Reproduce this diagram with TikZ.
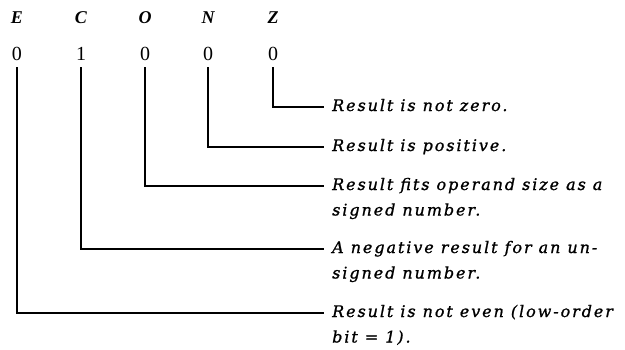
\documentclass[tikz,border=0pt]{standalone}
\usepackage{fontspec}
\setmainfont{Liberation Serif}
\newfontfamily\notefont[LetterSpace=12,FakeBold=1]{DejaVu Serif}
\usepackage{tikz}
\usetikzlibrary{positioning}
\usetikzlibrary{calc}
\tikzset{flag/.style={font=\fontsize{18}{20}\selectfont\bfseries\itshape,inner sep=0pt}}
\tikzset{bit/.style={font=\fontsize{20}{22}\selectfont,inner sep=0pt}}
\tikzset{note/.style={anchor=base west,inner sep=0pt,align=left,
                      font=\notefont\itshape\fontsize{16}{25.5}\selectfont}}
\tikzset{two lines/.style={yshift=-25.5pt}}
\tikzset{edge/.style={draw,
                      line width=1.6pt,
                      line cap=rect}}

\begin{document}
\begin{tikzpicture}
      [
      x=1pt,y=-1pt,
      ]
      \useasboundingbox (0,0) rectangle (625,349);

      % flags and bits
      \foreach \f/\x/\b in {E/17/0, C/81/1, O/145/0, N/208/0, Z/273/0}
      {
      \node [flag] (L\f) at (\x,18) {\f};
      \node [bit] (B\f) at (\x,54) {\b};
      }

      % ends of the lines
      \coordinate (PZ) at (323,107);
      \coordinate (PN) at (323,147);
      \coordinate (PO) at (323,186);
      \coordinate (PC) at (323,249);
      \coordinate (PE) at (323,313);

      % notes
      \node [note] (TZ) at ([shift={(9pt,-4pt)}]PZ) {Result is not zero.};
      \node [note] (TN) at ([shift={(9pt,-4pt)}]PN) {Result is positive.};
      \node [note,two lines] (TO) at ([shift={(9pt,-4pt)}]PO) {Result fits operand size as a\\signed number.};
      \node [note,two lines] (TC) at ([shift={(9pt,-4pt)}]PC) {A negative result for an un-\\signed number.};
      \node [note,two lines] (TE) at ([shift={(9pt,-4pt)}]PE) {Result is not even (low-order\\bit = 1).};

      % lines
      \path [edge,shorten <=7pt] (BZ.south) |- (PZ);
      \path [edge,shorten <=7pt] (BN.south) |- (PN);
      \path [edge,shorten <=7pt] (BO.south) |- (PO);
      \path [edge,shorten <=7pt] (BC.south) |- (PC);
      \path [edge,shorten <=7pt] (BE.south) |- (PE);

    \end{tikzpicture}
\end{document}
